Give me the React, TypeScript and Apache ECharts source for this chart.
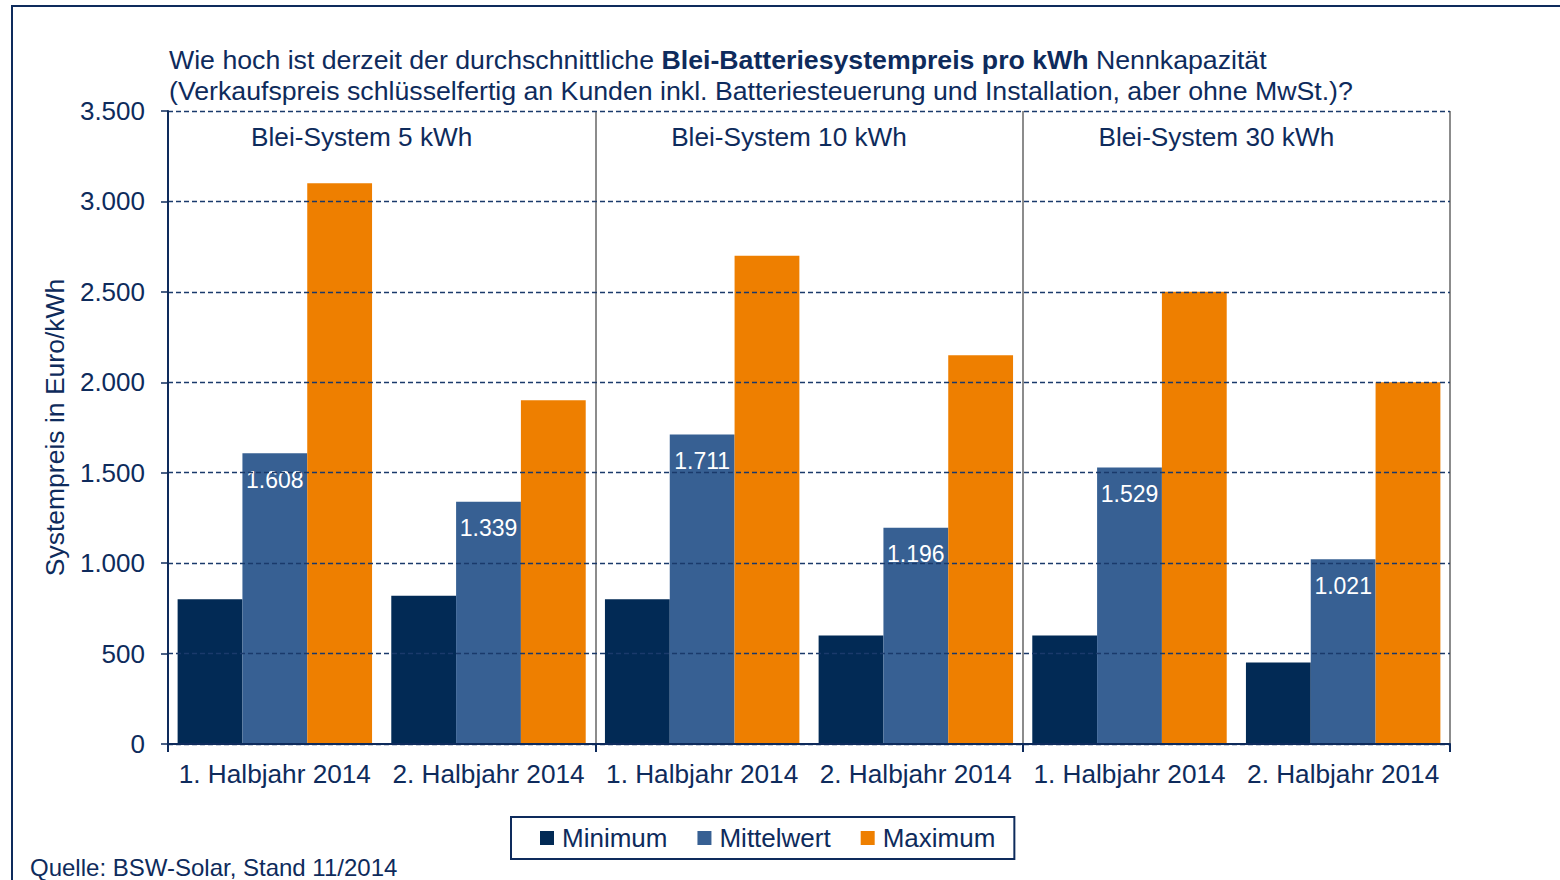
import React, { useEffect, useRef } from "react";
import * as echarts from "echarts";

const categories = [
  "1. Halbjahr 2014",
  "2. Halbjahr 2014",
  "1. Halbjahr 2014",
  "2. Halbjahr 2014",
  "1. Halbjahr 2014",
  "2. Halbjahr 2014",
];
const sectionNames = ["Blei-System 5 kWh", "Blei-System 10 kWh", "Blei-System 30 kWh"];
const minimumValues = [800, 820, 800, 600, 600, 450];
const mittelwertValues = [1608, 1339, 1711, 1196, 1529, 1021];
const maximumValues = [3100, 1900, 2700, 2150, 2500, 2000];
const seriesNames = ["Minimum", "Mittelwert", "Maximum"];

const NAVY = "#0e2b5c";
const FONT = '"Liberation Sans", Arial, sans-serif';

const fmt = (v: number) => String(v).replace(/\B(?=(\d{3})+(?!\d))/g, ".");

export default function App() {
  const ref = useRef<HTMLDivElement>(null);
  useEffect(() => {
    document.body.style.margin = "0";
    const chart = echarts.init(ref.current!, null, { renderer: "svg" });
    chart.setOption({
      animation: false,
      backgroundColor: "#ffffff",
      textStyle: { fontFamily: FONT, color: NAVY },
      title: {
        left: 169,
        top: 44,
        padding: 0,
        text:
          "{n|Wie hoch ist derzeit der durchschnittliche }{b|Blei-Batteriesystempreis pro kWh}{n| Nennkapazität}\n{n|(Verkaufspreis schlüsselfertig an Kunden inkl. Batteriesteuerung und Installation, aber ohne MwSt.)?}",
        textStyle: {
          fontWeight: "normal",
          fontSize: 26.7,
          fontFamily: FONT,
          color: NAVY,
          rich: {
            n: { fontSize: 26.7, fontFamily: FONT, color: NAVY, fontWeight: "normal", lineHeight: 31 },
            b: { fontSize: 26.7, fontFamily: FONT, color: NAVY, fontWeight: "bold", lineHeight: 31 },
          },
        },
      },
      legend: {
        left: 511,
        top: 817,
        orient: "horizontal",
        data: seriesNames,
        icon: "rect",
        itemWidth: 14,
        itemHeight: 14,
        itemGap: 30,
        borderColor: NAVY,
        borderWidth: 2,
        padding: [8, 19, 8, 29],
        textStyle: { fontSize: 26, fontFamily: FONT, color: NAVY, padding: [0, 0, 0, 3] },
      },
      grid: { left: 168, right: 110, top: 111, bottom: 136, containLabel: false },
      xAxis: [
        {
          type: "category",
          data: categories,
          position: "bottom",
          axisLine: { show: true, lineStyle: { color: NAVY, width: 2 } },
          axisTick: { show: false },
          axisLabel: { fontSize: 26.2, fontFamily: FONT, color: NAVY, margin: 17, interval: 0 },
          z: 3,
        },
        {
          type: "category",
          data: sectionNames,
          position: "bottom",
          axisLine: { show: false },
          axisTick: { show: true, length: 8, lineStyle: { color: NAVY, width: 2 } },
          axisLabel: { show: false },
          splitLine: { show: true, lineStyle: { color: "#8c8c8c", width: 2, type: "solid" } },
        },
        {
          type: "category",
          data: sectionNames,
          position: "top",
          axisLine: { show: false },
          axisTick: { show: false },
          axisLabel: {
            inside: true,
            margin: 13,
            fontSize: 26.2,
            fontFamily: FONT,
            color: NAVY,
            padding: [0, 40, 0, 0],
          },
        },
      ],
      yAxis: {
        type: "value",
        min: 0,
        max: 3500,
        interval: 500,
        name: "Systempreis in Euro/kWh",
        nameLocation: "middle",
        nameGap: 100,
        nameTextStyle: { fontSize: 26.5, fontFamily: FONT, color: NAVY },
        axisLine: { show: true, lineStyle: { color: NAVY, width: 2 } },
        axisTick: { show: true, length: 7, lineStyle: { color: NAVY, width: 1.5 } },
        axisLabel: { fontSize: 26, fontFamily: FONT, color: NAVY, margin: 23, formatter: (v: number) => fmt(v) },
        splitLine: { show: true, lineStyle: { color: "#1a3a6b", width: 1.4, type: [5, 3] } },
        z: 3,
      },
      graphic: [
        {
          type: "rect",
          shape: { x: 12, y: 6, width: 1700, height: 1000 },
          style: { fill: "none", stroke: NAVY, lineWidth: 2 },
          silent: true,
        },
        {
          type: "text",
          x: 30,
          y: 867,
          style: {
            text: "Quelle: BSW-Solar, Stand 11/2014",
            fontSize: 24,
            fontFamily: FONT,
            fill: NAVY,
            verticalAlign: "middle",
          },
        },
      ],
      series: [
        {
          name: seriesNames[0],
          type: "bar",
          data: minimumValues,
          barGap: "0%",
          barCategoryGap: "9%",
          itemStyle: { color: "#022a55" },
        },
        {
          name: seriesNames[1],
          type: "bar",
          data: mittelwertValues,
          barGap: "0%",
          barCategoryGap: "9%",
          itemStyle: { color: "#376093" },
          label: {
            show: true,
            position: "insideTop",
            distance: 15,
            color: "#ffffff",
            fontSize: 23,
            fontFamily: FONT,
            formatter: (p: any) => fmt(p.value),
          },
        },
        {
          name: seriesNames[2],
          type: "bar",
          data: maximumValues,
          barGap: "0%",
          barCategoryGap: "9%",
          itemStyle: { color: "#ee7f00" },
        },
      ],
    });
    return () => chart.dispose();
  }, []);
  return <div ref={ref} style={{ width: 1560, height: 880 }} />;
}
